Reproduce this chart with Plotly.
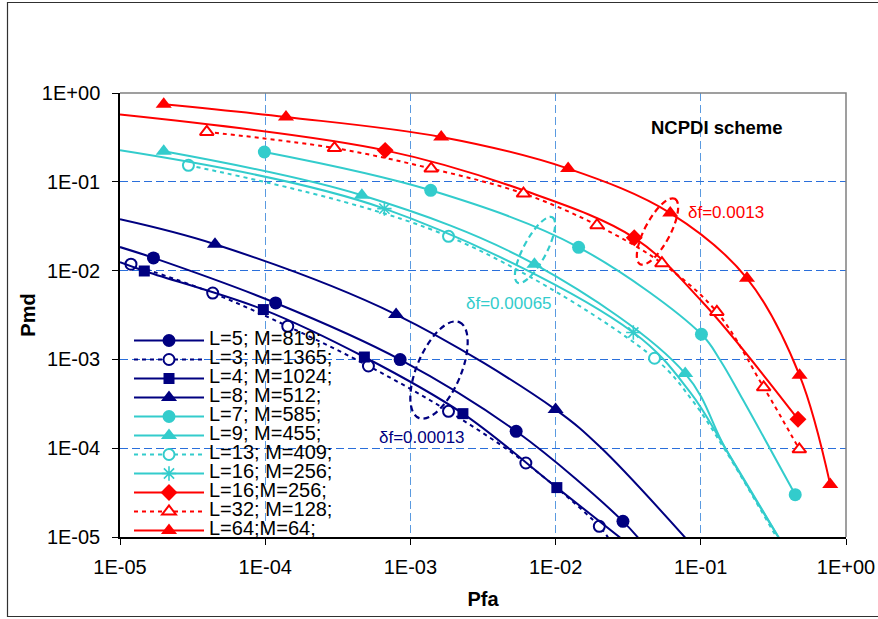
import math
import plotly.graph_objects as go

# ---------------- data ----------------
tick_vals = [1e-5, 1e-4, 1e-3, 1e-2, 1e-1, 1.0]
tick_text = ["1E-05", "1E-04", "1E-03", "1E-02", "1E-01", "1E+00"]

# navy group (df = 0.00013)
l5_mx = [1.7e-5, 1.18e-4, 8.5e-4, 5.35e-3, 2.91e-2]
l5_my = [1.39e-2, 4.32e-3, 9.95e-4, 1.55e-4, 1.5e-5]
l5_cx = [1e-5, 1.7e-5, 1.18e-4, 8.5e-4, 5.35e-3, 2.91e-2, 4.14e-2]
l5_cy = [1.84e-2, 1.39e-2, 4.32e-3, 9.95e-4, 1.55e-4, 1.5e-5, 7.85e-6]

l3_mx = [1.19e-5, 4.35e-5, 1.43e-4, 5.14e-4, 1.83e-3, 6.24e-3, 2.0e-2]
l3_my = [1.18e-2, 5.59e-3, 2.36e-3, 8.43e-4, 2.6e-4, 6.81e-5, 1.32e-5]
l3_cx = [1.19e-5, 4.35e-5, 1.43e-4, 5.14e-4, 1.83e-3, 6.24e-3, 2.0e-2, 2.32e-2]
l3_cy = [1.18e-2, 5.59e-3, 2.36e-3, 8.43e-4, 2.6e-4, 6.81e-5, 1.32e-5, 9.6e-6]

l4_mx = [1.47e-5, 9.71e-5, 4.82e-4, 2.30e-3, 1.02e-2]
l4_my = [9.9e-3, 3.64e-3, 1.064e-3, 2.45e-4, 3.6e-5]
l4_cx = [1e-5, 1.47e-5, 9.71e-5, 4.82e-4, 2.30e-3, 1.02e-2, 3.06e-2]
l4_cy = [1.24e-2, 9.9e-3, 3.64e-3, 1.064e-3, 2.45e-4, 3.6e-5, 8.7e-6]

l8_mx = [4.51e-5, 7.97e-4, 1.0e-2]
l8_my = [1.98e-2, 3.2e-3, 2.72e-4]
l8_cx = [1e-5, 4.51e-5, 7.97e-4, 1.0e-2, 2.03e-2, 8.1e-2]
l8_cy = [3.78e-2, 1.98e-2, 3.2e-3, 2.72e-4, 1.03e-4, 9.2e-6]

# cyan group (df = 0.00065)
l7_mx = [9.87e-5, 1.38e-3, 1.44e-2, 0.101, 0.447]
l7_my = [0.2166, 0.0802, 0.0183, 1.92e-3, 3.0e-5]
l7_cx = [9.87e-5, 1.38e-3, 1.44e-2, 0.101, 0.136, 0.196, 0.447]
l7_cy = [0.2166, 0.0802, 0.0183, 1.92e-3, 9.8e-4, 3.46e-4, 3.0e-5]

l9_mx = [2.0e-5, 4.63e-4, 7.15e-3, 7.81e-2]
l9_my = [0.2206, 0.0705, 0.0118, 6.92e-4]
l9_cx = [2.0e-5, 4.63e-4, 7.15e-3, 7.81e-2, 0.1474, 0.3527]
l9_cy = [0.2206, 0.0705, 0.0118, 6.92e-4, 1.0e-4, 9.2e-6]

l13_mx = [2.96e-5, 1.83e-3, 4.8e-2]
l13_my = [0.1534, 0.0243, 1.03e-3]
l13_cx = [2.96e-5, 1.83e-3, 4.8e-2, 8.73e-2, 0.1474, 0.3416]
l13_cy = [0.1534, 0.0243, 1.03e-3, 3.46e-4, 9.47e-5, 9.2e-6]

l16c_mx = [6.62e-4, 3.43e-2]
l16c_my = [0.0499, 2.01e-3]
l16c_cx = [1e-5, 6.62e-4, 3.43e-2, 8.46e-2, 0.1474, 0.3527]
l16c_cy = [0.2264, 0.0499, 2.01e-3, 4.26e-4, 1.0e-4, 9.2e-6]

# red group (df = 0.0013)
l16r_mx = [6.7e-4, 3.48e-2, 0.467]
l16r_my = [0.226, 0.0234, 2.12e-4]
l16r_cx = [1e-5, 6.7e-4, 6.01e-3, 3.48e-2, 0.1, 0.467]
l16r_cy = [0.571, 0.226, 0.0802, 0.0234, 4.63e-3, 2.12e-4]

l32_mx = [3.96e-5, 3.0e-4, 1.39e-3, 6.01e-3, 1.93e-2, 5.4e-2, 0.129, 0.271, 0.477]
l32_my = [0.364, 0.240, 0.1408, 0.0737, 0.0324, 0.0121, 3.42e-3, 4.85e-4, 9.72e-5]

l64_mx = [2.0e-5, 1.39e-4, 1.63e-3, 1.22e-2, 6.16e-2, 0.208, 0.479, 0.779]
l64_my = [0.746, 0.537, 0.320, 0.1408, 0.0445, 8.19e-3, 6.62e-4, 3.89e-5]

names = ["L=5; M=819;", "L=3; M=1365;", "L=4; M=1024;", "L=8; M=512;",
         "L=7; M=585;", "L=9; M=455;", "L=13; M=409;", "L=16; M=256;",
         "L=16;M=256;", "L=32; M=128;", "L=64;M=64;"]

# ---------------- styles ----------------
NAVY, CYAN, RED = "#000080", "#33CCCC", "#FF0000"
FONT = "Liberation Sans, Arial, sans-serif"
DOT = "4px,4px"

series = [
    # name, color, dash, symbol, hollow, size, marker x, marker y, curve x, curve y
    (names[0], NAVY, "solid", "circle", False, 13, l5_mx, l5_my, l5_cx, l5_cy),
    (names[1], NAVY, DOT, "circle", True, 11, l3_mx, l3_my, l3_cx, l3_cy),
    (names[2], NAVY, "solid", "square", False, 11, l4_mx, l4_my, l4_cx, l4_cy),
    (names[3], NAVY, "solid", "triangle-up", False, 14, l8_mx, l8_my, l8_cx, l8_cy),
    (names[4], CYAN, "solid", "circle", False, 13, l7_mx, l7_my, l7_cx, l7_cy),
    (names[5], CYAN, "solid", "triangle-up", False, 14, l9_mx, l9_my, l9_cx, l9_cy),
    (names[6], CYAN, DOT, "circle", True, 11, l13_mx, l13_my, l13_cx, l13_cy),
    (names[7], CYAN, "solid", "asterisk-open", False, 12, l16c_mx, l16c_my, l16c_cx, l16c_cy),
    (names[8], RED, "solid", "diamond", False, 13, l16r_mx, l16r_my, l16r_cx, l16r_cy),
    (names[9], RED, DOT, "triangle-up", True, 12, l32_mx, l32_my, l32_mx, l32_my),
    (names[10], RED, "solid", "triangle-up", False, 14, l64_mx, l64_my, l64_mx, l64_my),
]

fig = go.Figure()

for name, col, dash, sym, hollow, size, mx, my, cx, cy in series:
    if hollow:
        mk = dict(symbol=sym, size=size, color="white", line=dict(color=col, width=2))
    elif "asterisk" in sym:
        mk = dict(symbol=sym, size=size, color=col, line=dict(color=col, width=1.6))
    else:
        mk = dict(symbol=sym, size=size, color=col, line=dict(color=col, width=0))
    # smooth curve
    fig.add_trace(go.Scatter(x=cx, y=cy, mode="lines", showlegend=False, hoverinfo="skip",
                             line=dict(color=col, width=2, dash=dash, shape="spline", smoothing=1)))
    # markers
    fig.add_trace(go.Scatter(x=mx, y=my, mode="markers", showlegend=False, name=name,
                             marker=mk))
    # legend entry
    fig.add_trace(go.Scatter(x=[None], y=[None], mode="lines+markers", name=
                             '<span style="font-size:20px">%s</span>' % name,
                             line=dict(color=col, width=2, dash=dash), marker=mk))

# ---------------- layout geometry helpers (pixels -> paper) ----------------
W, H = 878, 619
ML, MR, MT, MB = 120, 32, 93, 82
PW, PH = W - ML - MR, H - MT - MB


def px(xp):
    return (xp - ML) / PW


def py(yp):
    return (MT + PH - yp) / PH


def ellipse_path(cx, cy, a, b, ang_deg):
    t = math.radians(ang_deg)
    ux, uy = math.cos(t), -math.sin(t)
    vx, vy = math.sin(t), math.cos(t)
    k = 0.5523
    A = (a * ux, a * uy)
    B = (b * vx, b * vy)
    P = [(cx + A[0], cy + A[1]), (cx + B[0], cy + B[1]), (cx - A[0], cy - A[1]), (cx - B[0], cy - B[1])]

    def c(p, q, s1, s2):
        return "C%.5f,%.5f %.5f,%.5f %.5f,%.5f" % (px(p[0] + s1[0]), py(p[1] + s1[1]),
                                                 px(q[0] + s2[0]), py(q[1] + s2[1]),
                                                 px(q[0]), py(q[1]))
    kA = (k * A[0], k * A[1]); kB = (k * B[0], k * B[1])
    nkA = (-kA[0], -kA[1]); nkB = (-kB[0], -kB[1])
    segs = ["M%.5f,%.5f" % (px(P[0][0]), py(P[0][1])),
            c(P[0], P[1], kB, kA), c(P[1], P[2], nkA, kB),
            c(P[2], P[3], nkB, nkA), c(P[3], P[0], kA, nkB), "Z"]
    return " ".join(segs)


shapes = [
    # white legend backing that hides the gridlines (but not the curves)
    dict(type="rect", xref="x", yref="y", layer="between",
         x0=-5, x1=-5 + 220 / (PW / 5), y0=-5, y1=-(323 - MT) / (PH / 5),
         fillcolor="white", line=dict(width=0)),
    # grey plot-area frame (top and right)
    dict(type="path", xref="paper", yref="paper", path="M0,1 L1,1 L1,0",
         line=dict(color="#808080", width=1.5), layer="above"),
    # outer chart border
    dict(type="rect", xref="paper", yref="paper", x0=px(7.5), x1=px(900), y0=py(616.5), y1=py(2.5),
         line=dict(color="#303030", width=1.2), layer="below"),
    # dashed ellipses
    dict(type="path", xref="paper", yref="paper", path=ellipse_path(439, 370, 52, 22, 67),
         line=dict(color=NAVY, width=2.2, dash="6px,4px"), layer="above"),
    dict(type="path", xref="paper", yref="paper", path=ellipse_path(535, 250, 37, 11.5, 62),
         line=dict(color=CYAN, width=2.2, dash="6px,4px"), layer="above"),
    dict(type="path", xref="paper", yref="paper", path=ellipse_path(657.5, 231.5, 37, 12.7, 62),
         line=dict(color=RED, width=2.2, dash="6px,4px"), layer="above"),
]

ann_common = dict(xref="paper", yref="paper", showarrow=False, xanchor="center", yanchor="middle")
annotations = [
    dict(text="<b>NCPDI scheme</b>", x=px(716.7), y=py(128),
         font=dict(size=18.5, color="black", family=FONT), **ann_common),
    dict(text="\u03b4f=0.0013", x=px(726), y=py(212),
         font=dict(size=17, color=RED, family=FONT), **ann_common),
    dict(text="\u03b4f=0.00065", x=px(509), y=py(303),
         font=dict(size=17, color=CYAN, family=FONT), **ann_common),
    dict(text="\u03b4f=0.00013", x=px(422), y=py(437),
         font=dict(size=17, color=NAVY, family=FONT), **ann_common),
]

axis_common = dict(type="log", range=[-5, 0], tickvals=tick_vals, ticktext=tick_text,
                   showgrid=True, gridwidth=1, griddash="8px,4px",
                   ticks="outside", ticklen=6, tickcolor="#000000", tickwidth=1,
                   showline=True, linecolor="#000000", linewidth=1.5,
                   tickfont=dict(size=20, color="black", family=FONT), zeroline=False)

fig.update_layout(
    width=W, height=H,
    margin=dict(l=ML, r=MR, t=MT, b=MB, autoexpand=False),
    paper_bgcolor="white", plot_bgcolor="rgba(0,0,0,0)",
    font=dict(family=FONT, color="black"),
    xaxis=dict(**axis_common, gridcolor="#5A9AE0", ticklabelstandoff=5,
               title=dict(text="<b>Pfa</b>", font=dict(size=20, family=FONT), standoff=15)),
    yaxis=dict(**axis_common, gridcolor="#2A6FDB", ticklabelstandoff=8,
               title=dict(text="<b>Pmd</b>", font=dict(size=20, family=FONT), standoff=1)),
    legend=dict(x=px(129), y=py(326), xanchor="left", yanchor="top",
                bgcolor="rgba(0,0,0,0)", borderwidth=0, itemwidth=70,
                font=dict(size=12, family=FONT, color="black"), tracegroupgap=0),
    shapes=shapes, annotations=annotations, showlegend=True,
)

fig.write_html("out.html")
